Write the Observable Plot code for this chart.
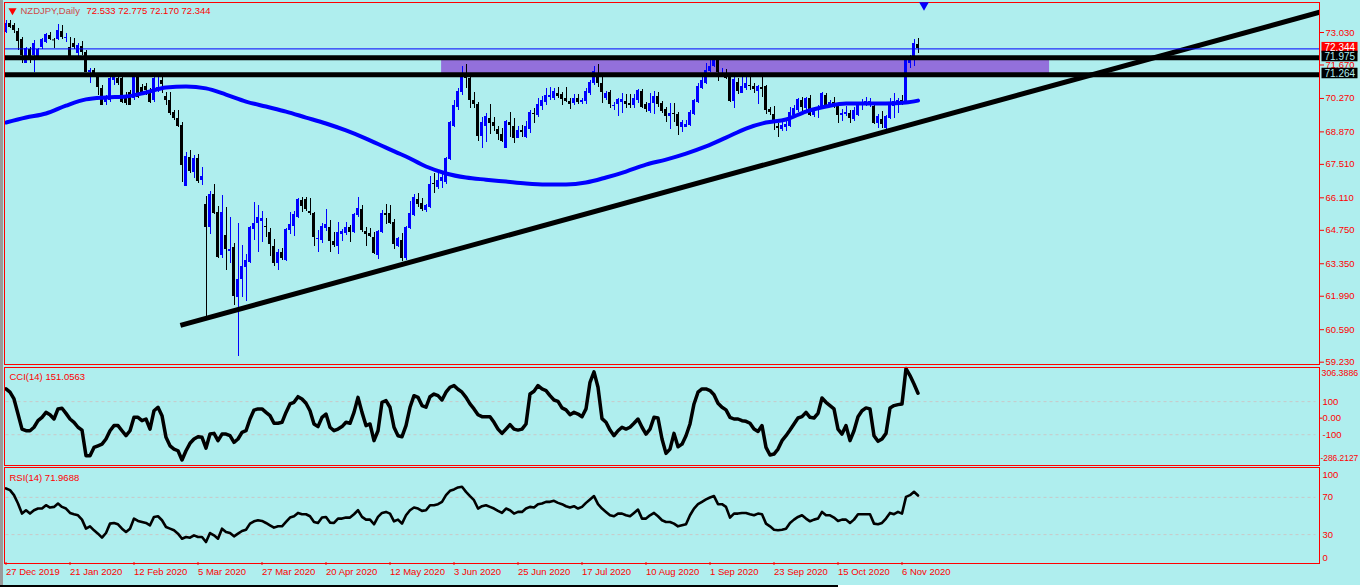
<!DOCTYPE html>
<html><head><meta charset="utf-8">
<script src="https://cdn.jsdelivr.net/npm/d3@7"></script>
<script src="https://cdn.jsdelivr.net/npm/@observablehq/plot@0.6"></script>
<style>
html,body{margin:0;padding:0;background:#AFEEEE;}
#wrap{position:relative;width:1360px;height:587px;background:#AFEEEE;overflow:hidden;}
#edgeL{position:absolute;left:0;top:0;width:3px;height:587px;background:#9a9a9a;}
#edgeB{position:absolute;left:0;top:585px;width:838px;height:2px;background:#000;}
#edgeB2{position:absolute;left:838px;top:585px;width:522px;height:2px;background:#fff;}
</style></head><body><div id="wrap"><div id="edgeL"></div><div id="edgeB"></div><div id="edgeB2"></div></div>
<script>
// ---------- data ----------
const symbolName = "NZDJPY,Daily";
const lastOHLC = "72.533 72.775 72.170 72.344";
const openP = [
73.03,73.40,73.32,73.07,72.74,71.73,72.32,72.07,72.03,72.40,
72.61,72.91,72.74,72.74,73.07,72.80,72.40,72.57,72.15,72.44,
72.19,71.36,71.44,71.15,70.69,70.10,70.18,71.02,71.10,71.10,
70.27,70.52,70.27,71.15,70.73,70.77,70.60,70.18,70.60,71.02,
70.35,70.18,69.68,69.43,69.14,66.58,67.80,67.17,67.76,66.84,
65.83,64.87,66.25,65.50,63.70,64.53,63.88,64.03,61.94,62.69,
63.19,63.40,64.78,65.04,65.12,64.89,64.66,64.07,63.36,63.82,
63.49,64.74,64.91,65.29,66.00,66.04,65.54,65.45,64.35,64.32,
64.83,64.87,64.28,64.07,64.57,64.62,64.87,64.66,65.37,65.62,
64.70,64.62,64.45,63.70,64.66,65.45,65.45,65.08,64.07,64.32,
63.57,64.83,65.37,66.04,65.87,65.58,65.71,66.71,66.54,66.79,
66.75,67.71,69.10,69.89,70.52,71.27,71.10,70.18,70.02,68.68,
69.10,69.43,69.26,68.97,68.76,68.17,69.26,69.10,68.59,68.93,
68.63,68.97,69.64,69.56,69.93,70.10,70.31,70.27,70.48,70.44,
70.27,70.14,70.06,70.27,70.10,70.14,70.48,70.89,71.31,70.89,
70.27,70.52,69.95,70.02,70.10,70.14,70.06,69.97,70.18,70.56,
70.02,69.72,70.06,70.35,70.06,69.81,69.51,69.64,69.60,69.05,
69.05,69.14,69.60,70.10,70.69,70.89,71.40,71.61,71.90,71.23,
71.31,71.15,70.14,70.94,70.48,70.69,70.81,70.77,70.56,70.73,
70.77,69.81,69.60,69.10,68.97,69.05,69.10,69.56,69.77,70.18,
69.85,70.27,69.56,69.77,69.85,70.39,69.97,70.10,69.93,69.56,
69.60,69.64,69.39,69.56,70.02,70.06,70.06,69.93,69.22,69.39,
69.01,69.43,69.93,70.06,70.18,70.10,71.73,71.90,72.533];
const highP = [
73.53,73.53,73.40,73.20,72.82,72.40,72.40,72.70,72.36,72.78,
72.99,73.03,72.78,73.36,73.32,72.99,72.82,72.78,72.57,72.65,
72.28,71.52,71.52,71.31,70.81,70.39,71.23,71.23,71.23,71.15,
70.52,70.60,71.23,71.23,70.85,70.89,70.69,71.15,71.15,71.23,
70.52,70.52,69.77,69.77,69.26,68.01,68.09,67.88,67.92,67.38,
66.17,66.37,66.67,65.75,66.21,65.71,65.29,64.20,65.04,64.11,
63.74,64.91,65.91,65.79,65.54,65.25,64.83,64.37,63.95,63.99,
64.83,65.50,65.54,66.08,66.12,66.12,66.08,65.50,64.74,65.04,
65.62,65.16,64.66,65.08,64.78,65.08,64.95,65.45,66.12,65.79,
64.87,64.83,64.66,64.74,65.58,65.83,65.79,65.20,64.45,64.62,
64.91,65.96,66.25,66.29,66.08,65.83,67.00,67.13,67.13,67.21,
67.80,69.30,70.18,70.69,71.61,71.69,71.23,70.52,70.10,69.47,
69.64,70.02,69.47,69.10,69.01,69.35,69.68,69.43,69.10,69.14,
69.30,69.77,69.85,70.27,70.35,70.69,70.73,70.69,70.73,70.52,
70.73,70.27,70.44,70.44,70.27,70.69,71.02,71.61,71.69,71.15,
70.56,70.60,70.10,70.27,70.48,70.44,70.44,70.44,70.65,70.65,
70.10,70.48,70.56,70.52,70.14,69.89,70.06,70.06,69.68,69.35,
69.35,69.77,70.23,70.89,71.27,71.73,71.90,71.98,71.98,71.52,
71.48,71.15,71.15,71.10,71.15,71.15,71.23,70.89,70.81,71.23,
70.81,69.89,69.93,69.22,69.26,69.35,69.89,69.97,70.27,70.31,
70.31,70.39,69.85,69.97,70.52,70.48,70.18,70.31,70.02,69.81,
69.93,69.77,69.89,70.10,70.23,70.31,70.27,70.02,69.60,69.72,
69.56,70.27,70.48,70.27,70.39,71.94,72.07,72.74,72.775];
const lowP = [
72.99,73.20,72.99,72.28,71.73,71.73,71.73,71.36,71.98,72.32,
72.57,72.70,72.36,72.70,72.74,72.61,71.98,72.32,71.94,72.07,
71.36,70.89,71.19,70.39,69.97,69.97,70.10,70.81,70.81,70.06,
69.97,69.97,70.18,70.27,70.48,70.39,70.06,70.10,70.52,70.48,
69.97,69.56,69.35,69.05,66.75,66.58,67.13,66.92,66.71,66.63,
61.10,64.57,65.41,63.57,63.57,63.07,63.36,61.60,59.47,61.94,
61.77,63.36,64.32,63.82,64.24,64.45,63.65,63.24,63.07,63.49,
63.44,64.57,64.49,65.25,65.50,65.54,65.37,64.07,63.82,64.20,
64.70,63.82,64.03,63.74,64.28,64.53,64.24,64.62,65.29,64.66,
64.07,64.45,63.74,63.53,64.62,64.99,64.99,63.95,64.03,63.44,
63.49,64.78,65.33,65.71,65.54,65.50,65.66,66.29,66.46,66.50,
66.67,67.67,69.05,69.77,70.39,70.69,69.85,69.85,68.47,68.17,
68.43,68.76,68.89,68.51,68.43,68.17,68.63,68.38,68.59,68.63,
68.59,68.80,69.22,69.47,69.77,69.97,70.18,70.18,70.27,69.97,
70.10,69.81,69.97,70.02,70.02,70.02,70.39,70.81,70.73,70.06,
70.18,69.85,69.77,69.51,69.64,69.85,69.85,69.85,70.06,69.85,
69.68,69.64,69.60,69.89,69.64,69.26,68.97,69.26,68.72,68.84,
69.05,69.10,69.56,70.06,70.65,70.85,71.36,71.57,70.98,71.19,
71.06,70.10,69.85,70.44,70.48,70.60,70.60,70.48,70.02,70.31,
69.60,69.56,68.93,68.63,68.89,68.89,69.05,69.47,69.68,69.68,
69.77,69.51,69.47,69.43,69.81,69.85,69.89,69.85,69.22,69.30,
69.51,69.22,69.30,69.51,69.77,69.93,69.89,69.18,69.01,69.01,
68.93,69.39,69.43,69.64,69.97,70.06,71.52,71.61,72.170];
const closeP = [
73.40,73.24,73.11,72.65,72.07,72.36,71.98,72.57,72.32,72.74,
72.95,72.74,72.72,73.11,72.82,72.84,72.03,72.40,72.49,72.19,
71.36,71.44,71.23,70.73,69.97,70.35,71.10,71.15,70.89,70.10,
70.06,69.97,71.15,70.31,70.52,70.60,70.10,71.10,70.73,70.85,
70.18,69.64,69.43,69.10,67.46,67.84,67.21,67.76,66.79,67.00,
64.87,66.25,65.45,63.61,65.50,63.95,63.93,61.98,62.69,63.24,
63.49,64.87,65.04,65.29,65.25,64.85,64.16,63.36,63.82,63.57,
64.78,64.99,65.41,66.04,65.75,65.62,65.45,64.45,64.39,64.91,
64.99,64.28,64.11,64.66,64.70,64.87,64.66,65.41,65.66,64.74,
64.57,64.49,63.78,64.70,65.45,65.37,65.04,64.16,64.41,63.57,
64.87,65.45,66.12,65.83,65.62,65.79,66.67,66.67,66.84,66.96,
67.76,69.26,69.97,70.56,71.27,71.10,70.18,70.02,68.68,69.26,
69.51,69.22,69.10,68.76,68.47,69.30,69.14,68.59,68.93,68.84,
69.10,69.68,69.60,70.02,70.18,70.39,70.39,70.56,70.35,70.23,
70.14,70.02,70.27,70.10,70.18,70.56,70.94,71.40,70.89,70.52,
70.48,70.02,69.99,70.23,70.23,70.02,69.97,70.27,70.60,69.89,
69.81,70.06,70.35,70.02,69.72,69.51,69.64,69.60,69.10,69.26,
69.18,69.68,70.18,70.77,71.02,71.44,71.61,71.94,71.36,71.31,
71.10,70.14,71.06,70.56,70.77,70.89,70.77,70.65,70.77,70.65,
69.77,69.68,69.22,69.01,69.14,69.18,69.68,69.85,70.23,69.89,
70.27,69.56,69.77,69.89,70.48,69.97,70.10,69.97,69.56,69.64,
69.68,69.43,69.77,70.06,70.10,70.14,70.14,69.22,69.51,69.18,
69.51,70.06,70.14,70.18,70.06,71.86,71.98,72.57,72.344];
const maIdx = [0,5,10,15,20,25,30,35,40,45,50,55,60,65,70,75,80,85,90,95,100,105,110,115,120,125,130,135,140,145,150,155,160,165,170,175,180,185,190,195,200,205,210,215,220,225,228];
const maVals = [69.26,69.47,69.64,69.97,70.23,70.31,70.35,70.52,70.73,70.77,70.69,70.43,70.14,69.93,69.72,69.47,69.22,68.93,68.59,68.21,67.84,67.42,67.13,66.96,66.87,66.79,66.71,66.67,66.67,66.75,66.96,67.21,67.50,67.71,67.96,68.26,68.63,69.01,69.26,69.39,69.72,69.93,70.06,70.06,70.06,70.10,70.18];
const cciVals = [
177,157,116,25,-66,-76,-76,-55,-15,5,
35,21,-5,56,60,29,-5,-25,-55,-72,
-227,-227,-177,-167,-157,-126,-76,-45,-45,-76,
-106,-76,5,5,-15,-5,-66,45,66,15,
-116,-167,-187,-197,-253,-197,-152,-126,-112,-116,
-181,-96,-92,-136,-96,-96,-106,-146,-126,-86,
-76,-5,49,56,56,35,15,-31,-31,-25,
35,86,96,130,116,90,45,-35,-51,5,
25,-55,-76,-66,-51,-25,-31,35,126,35,
-45,-35,-136,-76,96,106,66,-55,-106,-112,
-45,66,136,126,76,66,130,146,136,110,
157,187,197,175,157,126,86,56,21,9,
9,9,-25,-66,-92,-66,-39,-66,-72,-66,
-35,146,163,197,177,167,136,110,102,62,
50,21,35,25,9,56,217,280,187,-3,
-25,-72,-106,-76,-55,-66,-55,-31,-5,-55,
-96,-66,5,1,-126,-213,-187,-92,-173,-157,
-106,-35,86,157,177,177,167,142,90,66,
50,5,-5,-5,-15,-19,-31,-66,-80,-45,
-177,-223,-217,-187,-136,-106,-72,-35,1,9,
35,5,1,29,122,96,76,56,-66,-96,
-45,-136,-76,9,45,62,56,-106,-140,-126,
-92,62,76,82,86,300,258,207,151.0563];
const rsiVals = [
79.6,77.8,72.4,63.4,52.6,56.2,52.6,56.2,58.0,58.0,
61.6,59.1,59.8,63.4,59.8,58.0,53.3,51.9,50.8,46.1,
36.4,38.9,34.6,31.0,26.7,31.7,41.8,42.5,41.1,36.4,
32.8,36.4,47.2,44.7,43.6,42.5,40.0,49.0,49.7,45.4,
38.2,36.4,34.6,31.0,25.6,27.4,26.7,29.2,27.4,27.4,
22.0,31.7,29.2,25.6,36.4,32.8,31.7,28.1,31.0,33.9,
35.3,41.8,44.3,45.4,44.7,42.5,40.0,37.5,38.9,38.9,
43.6,48.3,49.7,53.3,51.9,51.9,49.7,43.6,42.5,48.3,
49.0,42.9,42.5,47.2,47.2,48.3,48.3,51.9,56.2,49.0,
46.1,46.1,41.1,49.0,53.3,54.4,52.6,44.3,46.1,41.8,
50.8,56.2,59.1,58.0,55.5,56.2,61.6,61.6,62.7,65.2,
72.4,77.1,78.6,80.7,81.4,76.0,71.4,67.0,58.0,60.5,
61.6,59.8,58.0,55.5,53.3,58.0,56.2,52.6,54.4,54.4,
58.0,59.8,59.1,62.7,63.4,65.2,65.2,66.3,64.1,62.7,
60.5,59.1,60.5,58.0,59.8,64.1,67.8,71.4,62.7,58.0,
54.4,50.8,49.7,52.6,52.6,50.8,49.7,53.3,56.9,47.2,
47.2,50.8,53.3,49.7,45.4,43.6,43.6,41.8,38.9,40.0,
41.1,50.8,58.0,62.7,65.2,67.8,69.9,71.4,62.7,62.7,
59.8,48.3,52.6,52.6,53.3,53.3,51.9,50.8,52.6,51.9,
41.8,38.9,35.3,34.6,35.3,36.4,42.5,46.1,49.0,50.8,
47.2,44.3,46.1,47.2,54.4,50.8,50.8,48.3,44.7,46.1,
46.1,42.5,46.1,51.9,51.9,51.9,51.9,41.8,41.1,42.5,
47.2,53.3,51.9,54.4,52.6,70.6,72.4,76.0,71.9688];
const levelPrices = [71.975, 71.264];
const bidPrice = 72.344;
const zoneIdx = [108.9, 260.9];
const trendIdx = [43.6, 328.4];
const trendPrice = [60.77, 73.88];
const arrowIdx = 229.5, arrowPrice = 74.18;
const priceTicks = [73.030, 71.670, 70.270, 68.870, 67.510, 66.110, 64.750, 63.350, 61.990, 60.590, 59.230];
const cciTickVals = [306.3886, 100, 0, -100, -286.2127];
const cciTickText = ["306.3886", "100", "0.00", "-100", "-286.2127"];
const rsiTickVals = [100, 70, 30, 0];
const xTickIdx = [0,16,32,48,64,80,96,112,128,144,160,176,192,208,224];
const xTickLabels = ["27 Dec 2019","21 Jan 2020","12 Feb 2020","5 Mar 2020","27 Mar 2020","20 Apr 2020","12 May 2020","3 Jun 2020","25 Jun 2020","17 Jul 2020","10 Aug 2020","1 Sep 2020","23 Sep 2020","15 Oct 2020","6 Nov 2020"];

// ---------- build ----------
const RED = "#ff0000", BLUE = "#0000ff", BG = "#AFEEEE";
const FONT = "'Liberation Sans', Arial, sans-serif";
const W = 1360;
const xDom = [-0.375, 328.375];
const HW = 0.375; // half body width in bar units
const candles = openP.map((o, i) => ({i, o, h: highP[i], l: lowP[i], c: closeP[i]}));
const col = d => d.c >= d.o ? BLUE : "#000000";
const ma = maIdx.map((i, k) => ({i, v: maVals[k]}));
const trend = trendIdx.map((i, k) => ({i, p: trendPrice[k]}));
const cci = cciVals.map((v, i) => ({i, v}));
const rsi = rsiVals.map((v, i) => ({i, v}));
const boxH = 0.22, boxOff = 0.05;
const boxes = [
  {p: bidPrice, t: bidPrice.toFixed(3), bg: RED, fg: "#ffffff"},
  ...levelPrices.map(p => ({p, t: p.toFixed(3), bg: "#000000", fg: BG}))
];
const baseStyle = top => ({position: "absolute", left: "0px", top: top + "px", background: "transparent", fontFamily: FONT, fontSize: "9.5px", color: RED, overflow: "visible"});

const main = Plot.plot({
  width: W, height: 366, marginLeft: 4, marginRight: 41, marginTop: 2, marginBottom: 2,
  style: baseStyle(0),
  x: {domain: xDom, axis: null},
  y: {domain: [59.133, 74.286], axis: null},
  marks: [
    Plot.rect([zoneIdx], {x1: d => d[0], x2: d => d[1], y1: () => levelPrices[1], y2: () => levelPrices[0], fill: "#9370DB"}),
    Plot.ruleX(candles, {x: "i", y1: "l", y2: "h", stroke: col, strokeWidth: 1, shapeRendering: "crispEdges"}),
    Plot.rect(candles, {x1: d => d.i - HW, x2: d => d.i + HW, y1: "o", y2: "c", fill: col, shapeRendering: "crispEdges"}),
    Plot.ruleY(candles, {filter: d => Math.abs(d.o - d.c) < 0.03, y: "c", x1: d => d.i - HW, x2: d => d.i + HW, stroke: col, strokeWidth: 1}),
    Plot.line(ma, {x: "i", y: "v", stroke: BLUE, strokeWidth: 4, curve: "monotone-x"}),
    Plot.ruleY(levelPrices, {stroke: "#000", strokeWidth: 5}),
    Plot.line(trend, {x: "i", y: "p", stroke: "#000", strokeWidth: 5, strokeLinecap: "butt", clip: true}),
    Plot.ruleY([bidPrice], {stroke: BLUE, strokeWidth: 1}),
    Plot.frame({stroke: RED, strokeWidth: 1}),
    Plot.axisY({anchor: "right", ticks: priceTicks, tickFormat: d => d.toFixed(3), tickSize: 4, tickPadding: 2, color: RED, fontSize: 9.5, label: null}),
    Plot.rect(boxes, {x1: 329, x2: 338, y1: d => d.p + boxOff - boxH, y2: d => d.p + boxOff + boxH, fill: "bg"}),
    Plot.text(boxes, {y: d => d.p + boxOff, text: "t", fill: "fg", frameAnchor: "right", dx: 5, textAnchor: "start", fontSize: 10}),
    Plot.dot([[arrowIdx, arrowPrice]], {x: d => d[0], y: d => d[1], symbol: "triangle", rotate: 180, r: 3.6, fill: BLUE, stroke: "none"}),
    Plot.dot([0], {frameAnchor: "top-left", dx: 8, dy: 8, symbol: "triangle", rotate: 180, r: 3, fill: RED, stroke: "none"}),
    Plot.text([symbolName], {frameAnchor: "top-left", dx: 16, dy: 8, textAnchor: "start", lineAnchor: "middle", fill: "#d04848"}),
    Plot.text([lastOHLC], {frameAnchor: "top-left", dx: 82, dy: 8, textAnchor: "start", lineAnchor: "middle", fill: RED})
  ]
});

const cciTicks = cciTickVals.map((v, k) => ({v, t: cciTickText[k], k}));
const cciPlot = Plot.plot({
  width: W, height: 100, marginLeft: 4, marginRight: 41, marginTop: 1, marginBottom: 1,
  style: baseStyle(366),
  x: {domain: xDom, axis: null},
  y: {domain: [-286.2127, 306.3886], axis: null},
  marks: [
    Plot.ruleY([100, -100], {x2: 327.5, stroke: "#c8c8c8", strokeDasharray: "3,3"}),
    Plot.line(cci, {x: "i", y: "v", stroke: "#000", strokeWidth: 3.5, curve: "linear"}),
    Plot.frame({stroke: RED, strokeWidth: 1}),
    Plot.ruleY([0], {x1: xDom[1], x2: 329.2, stroke: RED}),
    Plot.text(cciTicks.filter(d => d.k > 0 && d.k < 4), {y: "v", text: "t", frameAnchor: "right", dx: 3, textAnchor: "start", fill: RED}),
    Plot.text(cciTicks.filter(d => d.k === 0), {y: "v", text: "t", frameAnchor: "right", dx: 2, dy: 6, textAnchor: "start", fill: RED, fontSize: 8.8}),
    Plot.text(cciTicks.filter(d => d.k === 4), {y: "v", text: "t", frameAnchor: "right", dx: 1, dy: -7, textAnchor: "start", fill: RED, fontSize: 8.4}),
    Plot.text(["CCI(14) " + cciVals[cciVals.length - 1].toFixed(4)], {frameAnchor: "top-left", dx: 5, dy: 9, textAnchor: "start", lineAnchor: "middle", fill: RED})
  ]
});

const rsiPlot = Plot.plot({
  width: W, height: 121, marginLeft: 4, marginRight: 41, marginTop: 3, marginBottom: 25,
  style: baseStyle(466),
  x: {domain: xDom, axis: null},
  y: {domain: [0, 100], axis: null},
  marks: [
    Plot.ruleY([70, 30], {x2: 327.5, stroke: "#c8c8c8", strokeDasharray: "3,3"}),
    Plot.line(rsi, {x: "i", y: "v", stroke: "#000", strokeWidth: 2.6}),
    Plot.frame({stroke: RED, strokeWidth: 1, insetTop: -2, insetBottom: -1}),
    Plot.text(rsiTickVals.filter(v => v > 0 && v < 100), {y: d => d, text: d => String(d), frameAnchor: "right", dx: 3, textAnchor: "start", fill: RED}),
    Plot.text([100], {y: d => d, text: d => String(d), frameAnchor: "right", dx: 3, dy: 5, textAnchor: "start", fill: RED}),
    Plot.text([0], {y: d => d, text: d => String(d), frameAnchor: "right", dx: 3, dy: -5, textAnchor: "start", fill: RED}),
    Plot.axisX({ticks: xTickIdx, tickFormat: d => xTickLabels[xTickIdx.indexOf(d)], tickSize: 3, tickPadding: 3, textAnchor: "start", color: RED, fontSize: 9.5, label: null}),
    Plot.text(["RSI(14) " + rsiVals[rsiVals.length - 1].toFixed(4)], {frameAnchor: "top-left", dx: 5, dy: 8, textAnchor: "start", lineAnchor: "middle", fill: RED})
  ]
});

const wrap = document.getElementById("wrap");
wrap.appendChild(main);
wrap.appendChild(cciPlot);
wrap.appendChild(rsiPlot);
</script></body></html>
